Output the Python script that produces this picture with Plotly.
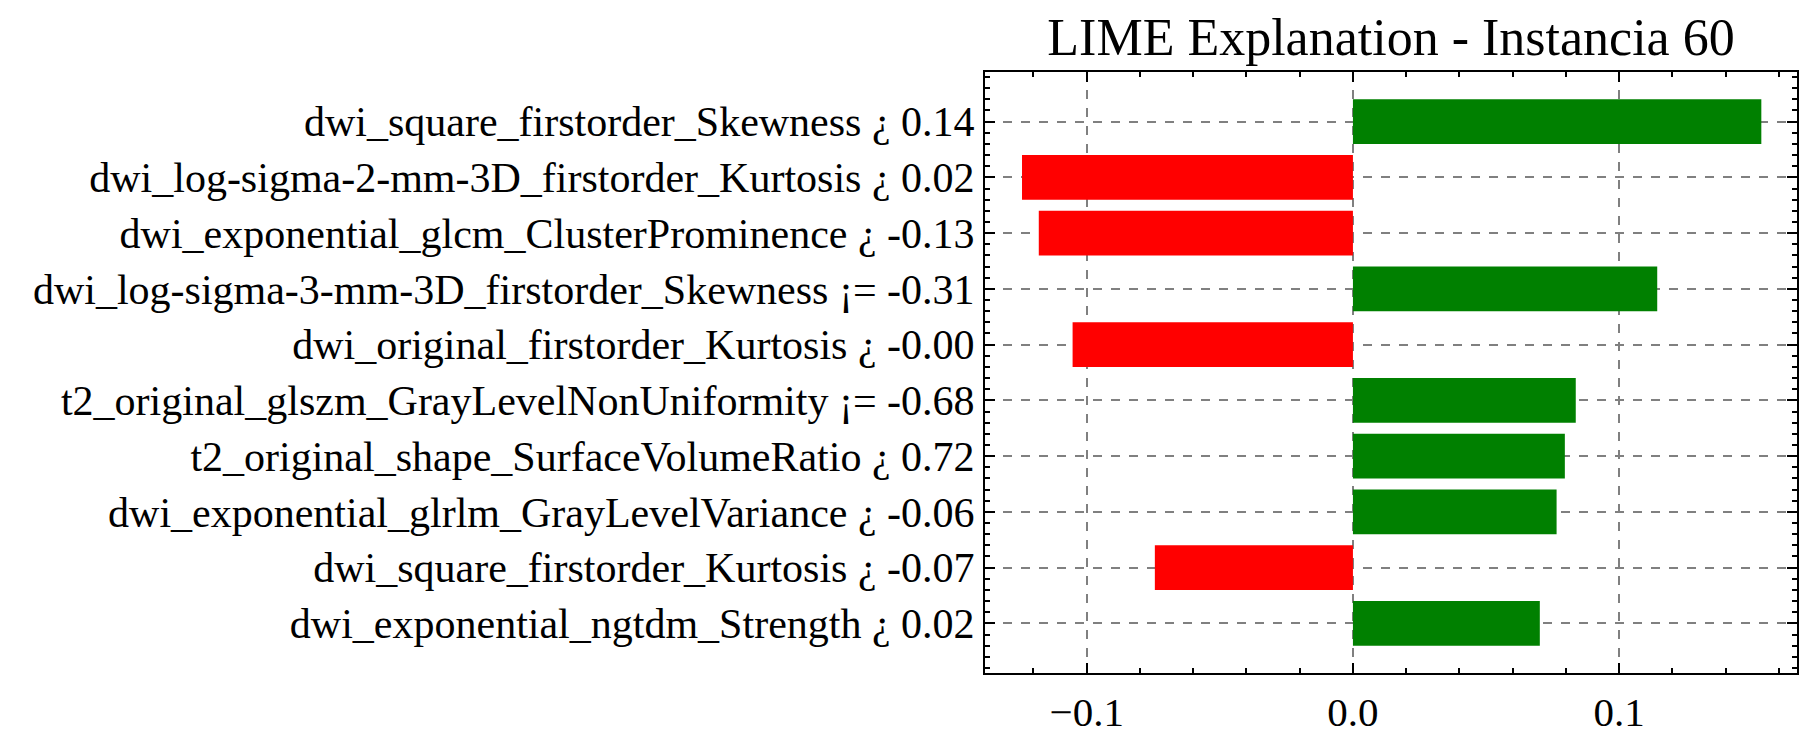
import plotly.graph_objects as go

features = [
    "dwi_square_firstorder_Skewness ¿ 0.14",
    "dwi_log-sigma-2-mm-3D_firstorder_Kurtosis ¿ 0.02",
    "dwi_exponential_glcm_ClusterProminence ¿ -0.13",
    "dwi_log-sigma-3-mm-3D_firstorder_Skewness ¡= -0.31",
    "dwi_original_firstorder_Kurtosis ¿ -0.00",
    "t2_original_glszm_GrayLevelNonUniformity ¡= -0.68",
    "t2_original_shape_SurfaceVolumeRatio ¿ 0.72",
    "dwi_exponential_glrlm_GrayLevelVariance ¿ -0.06",
    "dwi_square_firstorder_Kurtosis ¿ -0.07",
    "dwi_exponential_ngtdm_Strength ¿ 0.02",
]
weights = [0.1534, -0.1243, -0.1180, 0.1143, -0.1053, 0.0837, 0.0796, 0.0765, -0.0744, 0.0702]
x_tickvals = [-0.1, 0.0, 0.1]
x_ticktext = ["\u22120.1", "0.0", "0.1"]
title_text = "LIME Explanation - Instancia 60"

POS_COLOR = "#008000"
NEG_COLOR = "#ff0000"
FONT = "Liberation Serif"

n = len(features)
ypos = list(range(n))
colors = [POS_COLOR if w > 0 else NEG_COLOR for w in weights]

fig = go.Figure(go.Bar(
    x=weights, y=ypos, orientation="h", width=0.8,
    marker=dict(color=colors, line=dict(width=0)),
))

axis_common = dict(
    showline=True, linecolor="black", linewidth=2, mirror="allticks",
    ticks="inside", ticklen=10, tickwidth=1.5, tickcolor="black",
    showgrid=True, gridcolor="#808080", gridwidth=1.5, griddash="dash",
    zeroline=False,
)

fig.update_xaxes(
    **axis_common,
    range=[-0.1382, 0.1668],
    tickmode="array", tickvals=x_tickvals, ticktext=x_ticktext,
    minor=dict(dtick=0.02, tick0=0, ticks="inside", ticklen=5, tickwidth=1.5, tickcolor="black", showgrid=False),
    ticklabelstandoff=2,
    tickfont=dict(family=FONT, size=41, color="black"),
)
fig.update_yaxes(
    **axis_common,
    range=[n - 1 + 0.89, -0.89],
    tickmode="array", tickvals=ypos, ticktext=features,
    minor=dict(dtick=0.2, tick0=0, ticks="inside", ticklen=5, tickwidth=1.5, tickcolor="black", showgrid=False),
    ticklabelstandoff=0,
    tickfont=dict(family=FONT, size=42, color="black"),
)

fig.update_layout(
    width=1814, height=747,
    margin=dict(l=985, r=17, t=72, b=65),
    plot_bgcolor="white", paper_bgcolor="white",
    showlegend=False,
    title=dict(text=title_text, x=(985 + (1814 - 17)) / 2 / 1814, xanchor="center",
               xref="container", y=1 - 37 / 747, yref="container", yanchor="middle",
               font=dict(family=FONT, size=52, color="black")),
)

fig.write_html("out.html")
